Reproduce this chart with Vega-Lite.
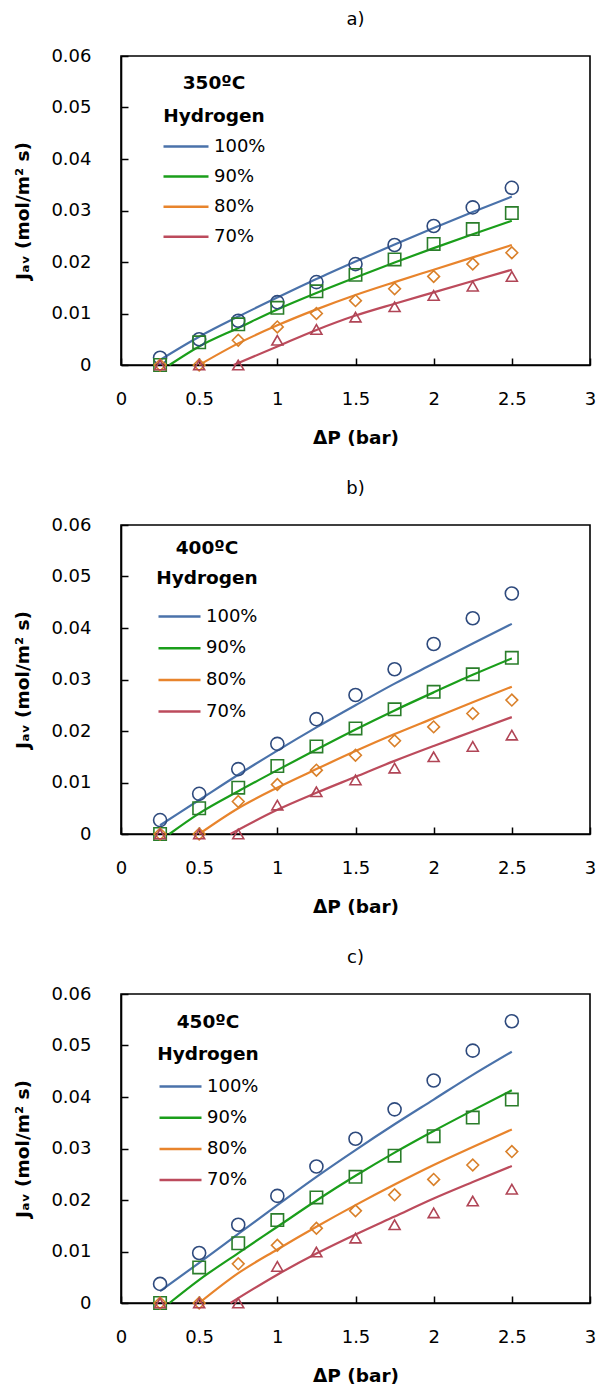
{
  "$schema": "https://vega.github.io/schema/vega-lite/v6.json",
  "padding": {"left": 13, "top": 10, "right": 5, "bottom": 0},
  "spacing": 31,
  "datasets": {
    "exp": [
      {"T": 350, "H": "100%", "dp": 0.25, "J": 0.0014}, {"T": 350, "H": "100%", "dp": 0.5, "J": 0.005}, {"T": 350, "H": "100%", "dp": 0.75, "J": 0.0086}, {"T": 350, "H": "100%", "dp": 1.0, "J": 0.0122}, {"T": 350, "H": "100%", "dp": 1.25, "J": 0.0161}, {"T": 350, "H": "100%", "dp": 1.5, "J": 0.0196}, {"T": 350, "H": "100%", "dp": 1.75, "J": 0.0233}, {"T": 350, "H": "100%", "dp": 2.0, "J": 0.027}, {"T": 350, "H": "100%", "dp": 2.25, "J": 0.0306}, {"T": 350, "H": "100%", "dp": 2.5, "J": 0.0344},
      {"T": 350, "H": "90%", "dp": 0.25, "J": 0}, {"T": 350, "H": "90%", "dp": 0.5, "J": 0.0044}, {"T": 350, "H": "90%", "dp": 0.75, "J": 0.0079}, {"T": 350, "H": "90%", "dp": 1.0, "J": 0.0111}, {"T": 350, "H": "90%", "dp": 1.25, "J": 0.0143}, {"T": 350, "H": "90%", "dp": 1.5, "J": 0.0175}, {"T": 350, "H": "90%", "dp": 1.75, "J": 0.0205}, {"T": 350, "H": "90%", "dp": 2.0, "J": 0.0235}, {"T": 350, "H": "90%", "dp": 2.25, "J": 0.0264}, {"T": 350, "H": "90%", "dp": 2.5, "J": 0.0295},
      {"T": 350, "H": "80%", "dp": 0.25, "J": 0}, {"T": 350, "H": "80%", "dp": 0.5, "J": 0}, {"T": 350, "H": "80%", "dp": 0.75, "J": 0.0048}, {"T": 350, "H": "80%", "dp": 1.0, "J": 0.0074}, {"T": 350, "H": "80%", "dp": 1.25, "J": 0.01}, {"T": 350, "H": "80%", "dp": 1.5, "J": 0.0125}, {"T": 350, "H": "80%", "dp": 1.75, "J": 0.0148}, {"T": 350, "H": "80%", "dp": 2.0, "J": 0.0172}, {"T": 350, "H": "80%", "dp": 2.25, "J": 0.0196}, {"T": 350, "H": "80%", "dp": 2.5, "J": 0.0218},
      {"T": 350, "H": "70%", "dp": 0.25, "J": 0}, {"T": 350, "H": "70%", "dp": 0.5, "J": 0}, {"T": 350, "H": "70%", "dp": 0.75, "J": 0}, {"T": 350, "H": "70%", "dp": 1.0, "J": 0.0048}, {"T": 350, "H": "70%", "dp": 1.25, "J": 0.0069}, {"T": 350, "H": "70%", "dp": 1.5, "J": 0.0093}, {"T": 350, "H": "70%", "dp": 1.75, "J": 0.0113}, {"T": 350, "H": "70%", "dp": 2.0, "J": 0.0135}, {"T": 350, "H": "70%", "dp": 2.25, "J": 0.0153}, {"T": 350, "H": "70%", "dp": 2.5, "J": 0.0172},
      {"T": 400, "H": "100%", "dp": 0.25, "J": 0.0027}, {"T": 400, "H": "100%", "dp": 0.5, "J": 0.0078}, {"T": 400, "H": "100%", "dp": 0.75, "J": 0.0126}, {"T": 400, "H": "100%", "dp": 1.0, "J": 0.0175}, {"T": 400, "H": "100%", "dp": 1.25, "J": 0.0223}, {"T": 400, "H": "100%", "dp": 1.5, "J": 0.027}, {"T": 400, "H": "100%", "dp": 1.75, "J": 0.032}, {"T": 400, "H": "100%", "dp": 2.0, "J": 0.0369}, {"T": 400, "H": "100%", "dp": 2.25, "J": 0.0419}, {"T": 400, "H": "100%", "dp": 2.5, "J": 0.0467},
      {"T": 400, "H": "90%", "dp": 0.25, "J": 0}, {"T": 400, "H": "90%", "dp": 0.5, "J": 0.005}, {"T": 400, "H": "90%", "dp": 0.75, "J": 0.009}, {"T": 400, "H": "90%", "dp": 1.0, "J": 0.0132}, {"T": 400, "H": "90%", "dp": 1.25, "J": 0.017}, {"T": 400, "H": "90%", "dp": 1.5, "J": 0.0205}, {"T": 400, "H": "90%", "dp": 1.75, "J": 0.0242}, {"T": 400, "H": "90%", "dp": 2.0, "J": 0.0276}, {"T": 400, "H": "90%", "dp": 2.25, "J": 0.031}, {"T": 400, "H": "90%", "dp": 2.5, "J": 0.0342},
      {"T": 400, "H": "80%", "dp": 0.25, "J": 0}, {"T": 400, "H": "80%", "dp": 0.5, "J": 0}, {"T": 400, "H": "80%", "dp": 0.75, "J": 0.0063}, {"T": 400, "H": "80%", "dp": 1.0, "J": 0.0096}, {"T": 400, "H": "80%", "dp": 1.25, "J": 0.0124}, {"T": 400, "H": "80%", "dp": 1.5, "J": 0.0153}, {"T": 400, "H": "80%", "dp": 1.75, "J": 0.0181}, {"T": 400, "H": "80%", "dp": 2.0, "J": 0.0208}, {"T": 400, "H": "80%", "dp": 2.25, "J": 0.0234}, {"T": 400, "H": "80%", "dp": 2.5, "J": 0.026},
      {"T": 400, "H": "70%", "dp": 0.25, "J": 0}, {"T": 400, "H": "70%", "dp": 0.5, "J": 0}, {"T": 400, "H": "70%", "dp": 0.75, "J": 0}, {"T": 400, "H": "70%", "dp": 1.0, "J": 0.0056}, {"T": 400, "H": "70%", "dp": 1.25, "J": 0.0082}, {"T": 400, "H": "70%", "dp": 1.5, "J": 0.0105}, {"T": 400, "H": "70%", "dp": 1.75, "J": 0.0128}, {"T": 400, "H": "70%", "dp": 2.0, "J": 0.015}, {"T": 400, "H": "70%", "dp": 2.25, "J": 0.017}, {"T": 400, "H": "70%", "dp": 2.5, "J": 0.0192},
      {"T": 450, "H": "100%", "dp": 0.25, "J": 0.0037}, {"T": 450, "H": "100%", "dp": 0.5, "J": 0.0097}, {"T": 450, "H": "100%", "dp": 0.75, "J": 0.0152}, {"T": 450, "H": "100%", "dp": 1.0, "J": 0.0208}, {"T": 450, "H": "100%", "dp": 1.25, "J": 0.0265}, {"T": 450, "H": "100%", "dp": 1.5, "J": 0.0319}, {"T": 450, "H": "100%", "dp": 1.75, "J": 0.0376}, {"T": 450, "H": "100%", "dp": 2.0, "J": 0.0432}, {"T": 450, "H": "100%", "dp": 2.25, "J": 0.049}, {"T": 450, "H": "100%", "dp": 2.5, "J": 0.0547},
      {"T": 450, "H": "90%", "dp": 0.25, "J": 0}, {"T": 450, "H": "90%", "dp": 0.5, "J": 0.0069}, {"T": 450, "H": "90%", "dp": 0.75, "J": 0.0116}, {"T": 450, "H": "90%", "dp": 1.0, "J": 0.0161}, {"T": 450, "H": "90%", "dp": 1.25, "J": 0.0205}, {"T": 450, "H": "90%", "dp": 1.5, "J": 0.0245}, {"T": 450, "H": "90%", "dp": 1.75, "J": 0.0286}, {"T": 450, "H": "90%", "dp": 2.0, "J": 0.0324}, {"T": 450, "H": "90%", "dp": 2.25, "J": 0.036}, {"T": 450, "H": "90%", "dp": 2.5, "J": 0.0395},
      {"T": 450, "H": "80%", "dp": 0.25, "J": 0}, {"T": 450, "H": "80%", "dp": 0.5, "J": 0}, {"T": 450, "H": "80%", "dp": 0.75, "J": 0.0076}, {"T": 450, "H": "80%", "dp": 1.0, "J": 0.0112}, {"T": 450, "H": "80%", "dp": 1.25, "J": 0.0145}, {"T": 450, "H": "80%", "dp": 1.5, "J": 0.0179}, {"T": 450, "H": "80%", "dp": 1.75, "J": 0.021}, {"T": 450, "H": "80%", "dp": 2.0, "J": 0.024}, {"T": 450, "H": "80%", "dp": 2.25, "J": 0.0268}, {"T": 450, "H": "80%", "dp": 2.5, "J": 0.0294},
      {"T": 450, "H": "70%", "dp": 0.25, "J": 0}, {"T": 450, "H": "70%", "dp": 0.5, "J": 0}, {"T": 450, "H": "70%", "dp": 0.75, "J": 0}, {"T": 450, "H": "70%", "dp": 1.0, "J": 0.0071}, {"T": 450, "H": "70%", "dp": 1.25, "J": 0.0099}, {"T": 450, "H": "70%", "dp": 1.5, "J": 0.0126}, {"T": 450, "H": "70%", "dp": 1.75, "J": 0.0152}, {"T": 450, "H": "70%", "dp": 2.0, "J": 0.0175}, {"T": 450, "H": "70%", "dp": 2.25, "J": 0.0198}, {"T": 450, "H": "70%", "dp": 2.5, "J": 0.0221}
    ],
    "model": [
      {"T": 350, "H": "100%", "dp": 0.25, "J": 0.001}, {"T": 350, "H": "100%", "dp": 0.5, "J": 0.0055}, {"T": 350, "H": "100%", "dp": 0.75, "J": 0.0094}, {"T": 350, "H": "100%", "dp": 1.0, "J": 0.0131}, {"T": 350, "H": "100%", "dp": 1.25, "J": 0.0167}, {"T": 350, "H": "100%", "dp": 1.5, "J": 0.0201}, {"T": 350, "H": "100%", "dp": 1.75, "J": 0.0234}, {"T": 350, "H": "100%", "dp": 2.0, "J": 0.0266}, {"T": 350, "H": "100%", "dp": 2.25, "J": 0.0297}, {"T": 350, "H": "100%", "dp": 2.5, "J": 0.0327},
      {"T": 350, "H": "90%", "dp": 0.31, "J": 0}, {"T": 350, "H": "90%", "dp": 0.5, "J": 0.0036}, {"T": 350, "H": "90%", "dp": 0.75, "J": 0.0072}, {"T": 350, "H": "90%", "dp": 1.0, "J": 0.0108}, {"T": 350, "H": "90%", "dp": 1.25, "J": 0.014}, {"T": 350, "H": "90%", "dp": 1.5, "J": 0.017}, {"T": 350, "H": "90%", "dp": 1.75, "J": 0.0199}, {"T": 350, "H": "90%", "dp": 2.0, "J": 0.0227}, {"T": 350, "H": "90%", "dp": 2.25, "J": 0.0254}, {"T": 350, "H": "90%", "dp": 2.5, "J": 0.028},
      {"T": 350, "H": "80%", "dp": 0.5, "J": 0}, {"T": 350, "H": "80%", "dp": 0.75, "J": 0.0042}, {"T": 350, "H": "80%", "dp": 1.0, "J": 0.0077}, {"T": 350, "H": "80%", "dp": 1.25, "J": 0.0108}, {"T": 350, "H": "80%", "dp": 1.5, "J": 0.0136}, {"T": 350, "H": "80%", "dp": 1.75, "J": 0.0161}, {"T": 350, "H": "80%", "dp": 2.0, "J": 0.0185}, {"T": 350, "H": "80%", "dp": 2.25, "J": 0.0209}, {"T": 350, "H": "80%", "dp": 2.5, "J": 0.0233},
      {"T": 350, "H": "70%", "dp": 0.72, "J": 0}, {"T": 350, "H": "70%", "dp": 1.0, "J": 0.0036}, {"T": 350, "H": "70%", "dp": 1.25, "J": 0.0068}, {"T": 350, "H": "70%", "dp": 1.5, "J": 0.0096}, {"T": 350, "H": "70%", "dp": 1.75, "J": 0.0119}, {"T": 350, "H": "70%", "dp": 2.0, "J": 0.0141}, {"T": 350, "H": "70%", "dp": 2.25, "J": 0.0163}, {"T": 350, "H": "70%", "dp": 2.5, "J": 0.0185},
      {"T": 400, "H": "100%", "dp": 0.25, "J": 0.0017}, {"T": 400, "H": "100%", "dp": 0.5, "J": 0.0066}, {"T": 400, "H": "100%", "dp": 0.75, "J": 0.0115}, {"T": 400, "H": "100%", "dp": 1.0, "J": 0.0162}, {"T": 400, "H": "100%", "dp": 1.25, "J": 0.0207}, {"T": 400, "H": "100%", "dp": 1.5, "J": 0.025}, {"T": 400, "H": "100%", "dp": 1.75, "J": 0.0292}, {"T": 400, "H": "100%", "dp": 2.0, "J": 0.0331}, {"T": 400, "H": "100%", "dp": 2.25, "J": 0.037}, {"T": 400, "H": "100%", "dp": 2.5, "J": 0.0408},
      {"T": 400, "H": "90%", "dp": 0.31, "J": 0}, {"T": 400, "H": "90%", "dp": 0.5, "J": 0.004}, {"T": 400, "H": "90%", "dp": 0.75, "J": 0.0083}, {"T": 400, "H": "90%", "dp": 1.0, "J": 0.0124}, {"T": 400, "H": "90%", "dp": 1.25, "J": 0.0164}, {"T": 400, "H": "90%", "dp": 1.5, "J": 0.0203}, {"T": 400, "H": "90%", "dp": 1.75, "J": 0.024}, {"T": 400, "H": "90%", "dp": 2.0, "J": 0.0275}, {"T": 400, "H": "90%", "dp": 2.25, "J": 0.0309}, {"T": 400, "H": "90%", "dp": 2.5, "J": 0.0341},
      {"T": 400, "H": "80%", "dp": 0.5, "J": 0}, {"T": 400, "H": "80%", "dp": 0.75, "J": 0.005}, {"T": 400, "H": "80%", "dp": 1.0, "J": 0.009}, {"T": 400, "H": "80%", "dp": 1.25, "J": 0.0126}, {"T": 400, "H": "80%", "dp": 1.5, "J": 0.0161}, {"T": 400, "H": "80%", "dp": 1.75, "J": 0.0194}, {"T": 400, "H": "80%", "dp": 2.0, "J": 0.0225}, {"T": 400, "H": "80%", "dp": 2.25, "J": 0.0256}, {"T": 400, "H": "80%", "dp": 2.5, "J": 0.0286},
      {"T": 400, "H": "70%", "dp": 0.7, "J": 0}, {"T": 400, "H": "70%", "dp": 1.0, "J": 0.0047}, {"T": 400, "H": "70%", "dp": 1.25, "J": 0.008}, {"T": 400, "H": "70%", "dp": 1.5, "J": 0.0111}, {"T": 400, "H": "70%", "dp": 1.75, "J": 0.0142}, {"T": 400, "H": "70%", "dp": 2.0, "J": 0.0171}, {"T": 400, "H": "70%", "dp": 2.25, "J": 0.0199}, {"T": 400, "H": "70%", "dp": 2.5, "J": 0.0227},
      {"T": 450, "H": "100%", "dp": 0.25, "J": 0.0023}, {"T": 450, "H": "100%", "dp": 0.5, "J": 0.0078}, {"T": 450, "H": "100%", "dp": 0.75, "J": 0.0134}, {"T": 450, "H": "100%", "dp": 1.0, "J": 0.019}, {"T": 450, "H": "100%", "dp": 1.25, "J": 0.0245}, {"T": 450, "H": "100%", "dp": 1.5, "J": 0.0297}, {"T": 450, "H": "100%", "dp": 1.75, "J": 0.0347}, {"T": 450, "H": "100%", "dp": 2.0, "J": 0.0395}, {"T": 450, "H": "100%", "dp": 2.25, "J": 0.0443}, {"T": 450, "H": "100%", "dp": 2.5, "J": 0.0488},
      {"T": 450, "H": "90%", "dp": 0.31, "J": 0}, {"T": 450, "H": "90%", "dp": 0.5, "J": 0.0045}, {"T": 450, "H": "90%", "dp": 0.75, "J": 0.0097}, {"T": 450, "H": "90%", "dp": 1.0, "J": 0.0148}, {"T": 450, "H": "90%", "dp": 1.25, "J": 0.0199}, {"T": 450, "H": "90%", "dp": 1.5, "J": 0.0247}, {"T": 450, "H": "90%", "dp": 1.75, "J": 0.0292}, {"T": 450, "H": "90%", "dp": 2.0, "J": 0.0334}, {"T": 450, "H": "90%", "dp": 2.25, "J": 0.0374}, {"T": 450, "H": "90%", "dp": 2.5, "J": 0.0413},
      {"T": 450, "H": "80%", "dp": 0.5, "J": 0}, {"T": 450, "H": "80%", "dp": 0.75, "J": 0.0058}, {"T": 450, "H": "80%", "dp": 1.0, "J": 0.0104}, {"T": 450, "H": "80%", "dp": 1.25, "J": 0.0148}, {"T": 450, "H": "80%", "dp": 1.5, "J": 0.019}, {"T": 450, "H": "80%", "dp": 1.75, "J": 0.023}, {"T": 450, "H": "80%", "dp": 2.0, "J": 0.0268}, {"T": 450, "H": "80%", "dp": 2.25, "J": 0.0303}, {"T": 450, "H": "80%", "dp": 2.5, "J": 0.0337},
      {"T": 450, "H": "70%", "dp": 0.7, "J": 0}, {"T": 450, "H": "70%", "dp": 1.0, "J": 0.0055}, {"T": 450, "H": "70%", "dp": 1.25, "J": 0.0096}, {"T": 450, "H": "70%", "dp": 1.5, "J": 0.0133}, {"T": 450, "H": "70%", "dp": 1.75, "J": 0.0168}, {"T": 450, "H": "70%", "dp": 2.0, "J": 0.0203}, {"T": 450, "H": "70%", "dp": 2.25, "J": 0.0235}, {"T": 450, "H": "70%", "dp": 2.5, "J": 0.0266}
    ]
  },
  "vconcat": [
    {
      "title": {"text": "a)"},
      "width": 469, "height": 309,
      "layer": [
        {
          "data": {"name": "model"},
          "transform": [{"filter": "datum.T == 350"}],
          "mark": {"type": "line", "interpolate": "monotone", "strokeWidth": 2.2},
          "encoding": {
            "x": {"field": "dp", "type": "quantitative", "scale": {"domain": [0, 3]}, "axis": {"title": "ΔP (bar)", "values": [0, 0.5, 1, 1.5, 2, 2.5, 3], "format": "~g"}},
            "y": {"field": "J", "type": "quantitative", "scale": {"domain": [0, 0.06]}, "axis": {"title": "Jₐᵥ (mol/m² s)", "values": [0, 0.01, 0.02, 0.03, 0.04, 0.05, 0.06], "format": "~g"}},
            "stroke": {"field": "H", "type": "nominal", "scale": {"domain": ["100%", "90%", "80%", "70%"], "range": ["#4A72AA", "#1A9E1A", "#E8842C", "#BC4B5C"]},
              "legend": {"orient": "none", "legendX": 41, "legendY": 18, "title": ["350ºC", "Hydrogen"], "titleLineHeight": 33, "titlePadding": 9, "rowPadding": 6.1, "clipHeight": 24, "symbolSize": 2025}}
          }
        },
        {
          "data": {"name": "exp"},
          "transform": [{"filter": "datum.T == 350"}],
          "mark": {"type": "point", "filled": false, "strokeWidth": 1.6, "opacity": 1},
          "encoding": {
            "x": {"field": "dp", "type": "quantitative"},
            "y": {"field": "J", "type": "quantitative"},
            "color": {"field": "H", "type": "nominal", "scale": {"domain": ["100%", "90%", "80%", "70%"], "range": ["#2E4A7D", "#2A7D2A", "#D9802A", "#B04556"]}, "legend": null},
            "shape": {"field": "H", "type": "nominal", "scale": {"domain": ["100%", "90%", "80%", "70%"], "range": ["circle", "square", "diamond", "triangle-up"]}, "legend": null},
            "size": {"field": "H", "type": "nominal", "scale": {"domain": ["100%", "90%", "80%", "70%"], "range": [170, 121, 200, 150]}, "legend": null}
          }
        }
      ],
      "resolve": {"scale": {"color": "independent", "stroke": "independent"}}
    },
    {
      "title": {"text": "b)"},
      "width": 469, "height": 309,
      "layer": [
        {
          "data": {"name": "model"},
          "transform": [{"filter": "datum.T == 400"}],
          "mark": {"type": "line", "interpolate": "monotone", "strokeWidth": 2.2},
          "encoding": {
            "x": {"field": "dp", "type": "quantitative", "scale": {"domain": [0, 3]}, "axis": {"title": "ΔP (bar)", "values": [0, 0.5, 1, 1.5, 2, 2.5, 3], "format": "~g"}},
            "y": {"field": "J", "type": "quantitative", "scale": {"domain": [0, 0.06]}, "axis": {"title": "Jₐᵥ (mol/m² s)", "values": [0, 0.01, 0.02, 0.03, 0.04, 0.05, 0.06], "format": "~g"}},
            "stroke": {"field": "H", "type": "nominal", "scale": {"domain": ["100%", "90%", "80%", "70%"], "range": ["#4A72AA", "#1A9E1A", "#E8842C", "#BC4B5C"]},
              "legend": {"orient": "none", "legendX": 35, "legendY": 14, "title": ["400ºC", "Hydrogen"], "titleLineHeight": 30, "titlePadding": 17, "rowPadding": 7.7, "clipHeight": 24, "symbolSize": 1764}}
          }
        },
        {
          "data": {"name": "exp"},
          "transform": [{"filter": "datum.T == 400"}],
          "mark": {"type": "point", "filled": false, "strokeWidth": 1.6, "opacity": 1},
          "encoding": {
            "x": {"field": "dp", "type": "quantitative"},
            "y": {"field": "J", "type": "quantitative"},
            "color": {"field": "H", "type": "nominal", "scale": {"domain": ["100%", "90%", "80%", "70%"], "range": ["#2E4A7D", "#2A7D2A", "#D9802A", "#B04556"]}, "legend": null},
            "shape": {"field": "H", "type": "nominal", "scale": {"domain": ["100%", "90%", "80%", "70%"], "range": ["circle", "square", "diamond", "triangle-up"]}, "legend": null},
            "size": {"field": "H", "type": "nominal", "scale": {"domain": ["100%", "90%", "80%", "70%"], "range": [170, 121, 200, 150]}, "legend": null}
          }
        }
      ],
      "resolve": {"scale": {"color": "independent", "stroke": "independent"}}
    },
    {
      "title": {"text": "c)"},
      "width": 469, "height": 309,
      "layer": [
        {
          "data": {"name": "model"},
          "transform": [{"filter": "datum.T == 450"}],
          "mark": {"type": "line", "interpolate": "monotone", "strokeWidth": 2.2},
          "encoding": {
            "x": {"field": "dp", "type": "quantitative", "scale": {"domain": [0, 3]}, "axis": {"title": "ΔP (bar)", "values": [0, 0.5, 1, 1.5, 2, 2.5, 3], "format": "~g"}},
            "y": {"field": "J", "type": "quantitative", "scale": {"domain": [0, 0.06]}, "axis": {"title": "Jₐᵥ (mol/m² s)", "values": [0, 0.01, 0.02, 0.03, 0.04, 0.05, 0.06], "format": "~g"}},
            "stroke": {"field": "H", "type": "nominal", "scale": {"domain": ["100%", "90%", "80%", "70%"], "range": ["#4A72AA", "#1A9E1A", "#E8842C", "#BC4B5C"]},
              "legend": {"orient": "none", "legendX": 36, "legendY": 19, "title": ["450ºC", "Hydrogen"], "titleLineHeight": 32, "titlePadding": 11, "rowPadding": 7.2, "clipHeight": 24, "symbolSize": 1764}}
          }
        },
        {
          "data": {"name": "exp"},
          "transform": [{"filter": "datum.T == 450"}],
          "mark": {"type": "point", "filled": false, "strokeWidth": 1.6, "opacity": 1},
          "encoding": {
            "x": {"field": "dp", "type": "quantitative"},
            "y": {"field": "J", "type": "quantitative"},
            "color": {"field": "H", "type": "nominal", "scale": {"domain": ["100%", "90%", "80%", "70%"], "range": ["#2E4A7D", "#2A7D2A", "#D9802A", "#B04556"]}, "legend": null},
            "shape": {"field": "H", "type": "nominal", "scale": {"domain": ["100%", "90%", "80%", "70%"], "range": ["circle", "square", "diamond", "triangle-up"]}, "legend": null},
            "size": {"field": "H", "type": "nominal", "scale": {"domain": ["100%", "90%", "80%", "70%"], "range": [170, 121, 200, 150]}, "legend": null}
          }
        }
      ],
      "resolve": {"scale": {"color": "independent", "stroke": "independent"}}
    }
  ],
  "resolve": {"scale": {"color": "independent", "stroke": "independent", "shape": "independent", "size": "independent"}, "legend": {"stroke": "independent"}},
  "config": {
    "font": "DejaVu Sans",
    "background": "white",
    "view": {"stroke": "#000", "strokeWidth": 1.6},
    "axis": {"grid": false, "zindex": 1, "domainColor": "#000", "domainWidth": 1.6, "tickColor": "#000", "tickWidth": 1.5, "tickSize": -7, "labelColor": "#000", "labelFontSize": 18, "labelFont": "DejaVu Sans", "titleFont": "DejaVu Sans", "titleFontSize": 18.5, "titleFontWeight": "bold", "titleColor": "#000", "labelFlush": false, "labelOverlap": false},
    "axisX": {"labelPadding": 32, "titlePadding": 20},
    "axisY": {"labelPadding": 37, "titlePadding": 18},
    "title": {"fontSize": 18, "fontWeight": "normal", "offset": 18, "color": "#000", "font": "DejaVu Sans"},
    "legend": {"padding": 0, "titleFont": "DejaVu Sans", "titleFontSize": 18.5, "titleFontWeight": "bold", "titleColor": "#000", "titleAlign": "center", "titleAnchor": "middle", "labelFont": "DejaVu Sans", "labelFontSize": 18, "labelColor": "#000", "labelOffset": 4, "symbolType": "stroke", "symbolStrokeWidth": 2.5}
  }
}
